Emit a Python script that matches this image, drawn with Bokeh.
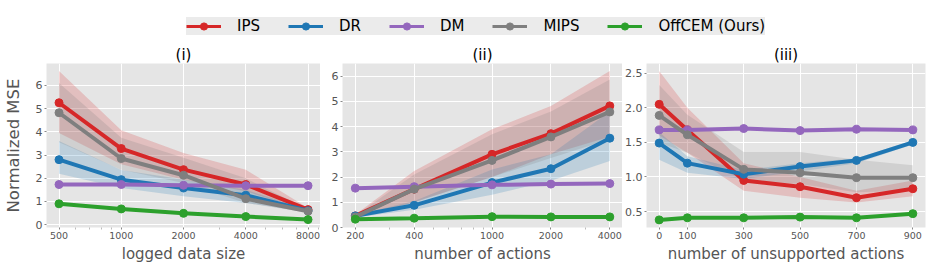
from bokeh.plotting import figure
from bokeh.layouts import column, row
from bokeh.models import (FixedTicker, Range1d, Legend, LegendItem, ColumnDataSource)
from bokeh.embed import file_html
from bokeh.resources import INLINE

FONT = "DejaVu Sans"

methods = ["IPS", "DR", "DM", "MIPS", "OffCEM (Ours)"]
colors = ["#d62728", "#1f77b4", "#9467bd", "#7f7f7f", "#2ca02c"]

# ---- panel (i): logged data size ----
x1 = [500, 1000, 2000, 4000, 8000]
p1_vals = {
    "IPS": [5.25, 3.28, 2.37, 1.73, 0.65],
    "DR": [2.80, 1.94, 1.58, 1.27, 0.60],
    "DM": [1.73, 1.73, 1.70, 1.68, 1.68],
    "MIPS": [4.82, 2.85, 2.13, 1.12, 0.58],
    "OffCEM (Ours)": [0.90, 0.68, 0.49, 0.35, 0.22],
}
p1_upper = {
    "IPS": [6.62, 4.07, 3.09, 2.37, 0.72],
    "DR": [3.60, 2.35, 1.95, 1.50, 0.66],
    "MIPS": [6.10, 3.74, 2.88, 2.00, 0.65],
}
p1_lower = {
    "IPS": [3.95, 2.60, 1.94, 1.44, 0.58],
    "DR": [2.19, 1.58, 1.22, 0.94, 0.54],
    "MIPS": [3.55, 2.37, 1.80, 0.94, 0.52],
}

# ---- panel (ii): number of actions ----
x2 = [200, 400, 1000, 2000, 4000]
p2_vals = {
    "IPS": [0.46, 1.52, 2.90, 3.72, 4.82],
    "DR": [0.46, 0.88, 1.78, 2.33, 3.54],
    "DM": [1.56, 1.62, 1.69, 1.72, 1.74],
    "MIPS": [0.42, 1.52, 2.66, 3.59, 4.58],
    "OffCEM (Ours)": [0.33, 0.37, 0.43, 0.42, 0.42],
}
p2_upper = {
    "IPS": [0.52, 2.24, 3.89, 4.82, 6.20],
    "DR": [0.50, 1.05, 2.30, 2.90, 4.60],
    "MIPS": [0.48, 2.10, 3.70, 4.60, 5.87],
}
p2_lower = {
    "IPS": [0.38, 1.00, 2.00, 2.90, 3.60],
    "DR": [0.40, 0.70, 1.30, 1.85, 2.64],
    "MIPS": [0.36, 1.00, 2.00, 2.75, 3.50],
}

# ---- panel (iii): number of unsupported actions ----
x3 = [0, 100, 300, 500, 700, 900]
p3_vals = {
    "IPS": [2.05, 1.68, 0.95, 0.86, 0.70, 0.83],
    "DR": [1.49, 1.20, 1.04, 1.15, 1.24, 1.50],
    "DM": [1.68, 1.68, 1.70, 1.67, 1.69, 1.68],
    "MIPS": [1.89, 1.61, 1.11, 1.06, 0.99, 0.99],
    "OffCEM (Ours)": [0.38, 0.41, 0.41, 0.42, 0.41, 0.47],
}
p3_upper = {
    "IPS": [2.53, 2.00, 1.20, 1.00, 0.80, 0.95],
    "DR": [1.65, 1.30, 1.10, 1.20, 1.27, 1.53],
    "MIPS": [2.33, 1.90, 1.36, 1.36, 1.25, 1.17],
}
p3_lower = {
    "IPS": [1.60, 1.35, 0.80, 0.70, 0.63, 0.72],
    "DR": [1.25, 1.06, 0.97, 1.08, 1.20, 1.47],
    "MIPS": [1.50, 1.35, 0.95, 0.90, 0.78, 0.80],
}

titles = ["(i)", "(ii)", "(iii)"]
xlabels = ["logged data size", "number of actions", "number of unsupported actions"]
xticks = [x1, x2, [0, 100, 300, 500, 700, 900]]
yticks = [[0, 1, 2, 3, 4, 5, 6], [0, 1, 2, 3, 4, 5, 6], [0.5, 1.0, 1.5, 2.0, 2.5]]
minor1 = [600, 700, 800, 900, 3000, 5000, 6000, 7000, 9000]
minor2 = [300, 500, 600, 700, 800, 900, 3000]


def make_panel(idx, xs, vals, upper, lower, xr, yr, x_type, width, left, right, minor):
    p = figure(width=width, height=233, x_axis_type=x_type,
               x_range=Range1d(*xr), y_range=Range1d(*yr),
               output_backend="svg", toolbar_location=None,
               min_border_left=left, min_border_right=right,
               min_border_top=23, min_border_bottom=46,
               background_fill_color="#E5E5E5", border_fill_color="white")
    p.outline_line_color = None
    p.title.text = titles[idx]
    p.title.text_font = FONT
    p.title.text_font_size = "15px"
    p.title.text_font_style = "normal"
    p.title.align = "center"
    p.title.standoff = 0
    p.title.text_color = "black"
    p.xgrid.grid_line_color = "white"
    p.ygrid.grid_line_color = "white"
    p.xgrid.grid_line_width = 1
    p.ygrid.grid_line_width = 1
    p.xaxis.ticker = FixedTicker(ticks=xticks[idx], minor_ticks=minor)
    p.yaxis.ticker = FixedTicker(ticks=yticks[idx])
    if idx == 2:
        p.yaxis.major_label_overrides = {0.5: "0.5", 1.0: "1.0", 1.5: "1.5", 2.0: "2.0", 2.5: "2.5"}
    for ax in (p.xaxis[0], p.yaxis[0]):
        ax.axis_line_color = None
        ax.major_tick_line_color = "#888888"
        ax.minor_tick_line_color = "#bbbbbb"
        ax.major_tick_out = 2
        ax.major_tick_in = 0
        ax.minor_tick_out = 2
        ax.minor_tick_in = 0
        ax.major_label_text_font = FONT
        ax.major_label_text_color = "#555555"
        ax.axis_label_text_font = FONT
        ax.axis_label_text_color = "#555555"
        ax.axis_label_text_font_style = "normal"
        ax.major_label_standoff = 2
    p.yaxis.minor_tick_line_color = None
    p.xaxis.major_label_text_font_size = "9.5px"
    p.yaxis.major_label_text_font_size = "11px"
    p.xaxis.axis_label = xlabels[idx]
    p.xaxis.axis_label_text_font_size = "15px"
    p.xaxis.axis_label_standoff = 3
    if idx == 0:
        p.yaxis.axis_label = "Normalized MSE"
        p.yaxis.axis_label_text_font_size = "16.5px"
        p.yaxis.axis_label_standoff = 10

    for m, c in zip(methods, colors):
        if m in upper:
            p.varea(x=xs, y1=lower[m], y2=upper[m], fill_color=c, fill_alpha=0.2)
    for m, c in zip(methods, colors):
        p.line(xs, vals[m], line_color=c, line_width=4)
        p.scatter(xs, vals[m], size=8, fill_color=c, line_color=c)
    return p


p1 = make_panel(0, x1, p1_vals, p1_upper, p1_lower, (435, 9190), (-0.12, 6.94), "log", 320, 40, 0, minor1)
p2 = make_panel(1, x2, p2_vals, p2_upper, p2_lower, (172, 4645), (0.0, 6.5), "log", 302, 22, 0, minor2)
p3 = make_panel(2, x3, p3_vals, p3_upper, p3_lower, (-45, 945), (0.27, 2.64), "linear", 304, 23, 1, [])

# ---- shared legend ----
lg = figure(width=926, height=40, output_backend="svg", toolbar_location=None,
            x_range=Range1d(0, 1), y_range=Range1d(0, 1),
            min_border=0, min_border_left=0, min_border_right=0,
            min_border_top=0, min_border_bottom=0)
lg.axis.visible = False
lg.grid.visible = False
lg.outline_line_color = None
lg.background_fill_color = "white"
lg.border_fill_color = "white"
items = []
for m, c in zip(methods, colors):
    src = ColumnDataSource(data=dict(x=[-10.0], y=[-10.0]))
    lr = lg.line("x", "y", source=src, line_color=c, line_width=3)
    sr = lg.scatter("x", "y", source=src, size=6, fill_color=c, line_color=c)
    items.append(LegendItem(label=m, renderers=[lr, sr]))
legend = Legend(items=items, orientation="horizontal", location=(186, 5),
                glyph_width=35, glyph_height=18, label_height=18,
                label_standoff=16, spacing=28, padding=4, margin=0,
                label_text_font=FONT, label_text_font_size="15px",
                label_text_color="black",
                background_fill_color="#EBEBEB", background_fill_alpha=1.0,
                border_line_color=None)
lg.add_layout(legend, "center")

layout = column(lg, row(p1, p2, p3, spacing=0), spacing=0)

open("out.html", "w").write(file_html(layout, INLINE))
